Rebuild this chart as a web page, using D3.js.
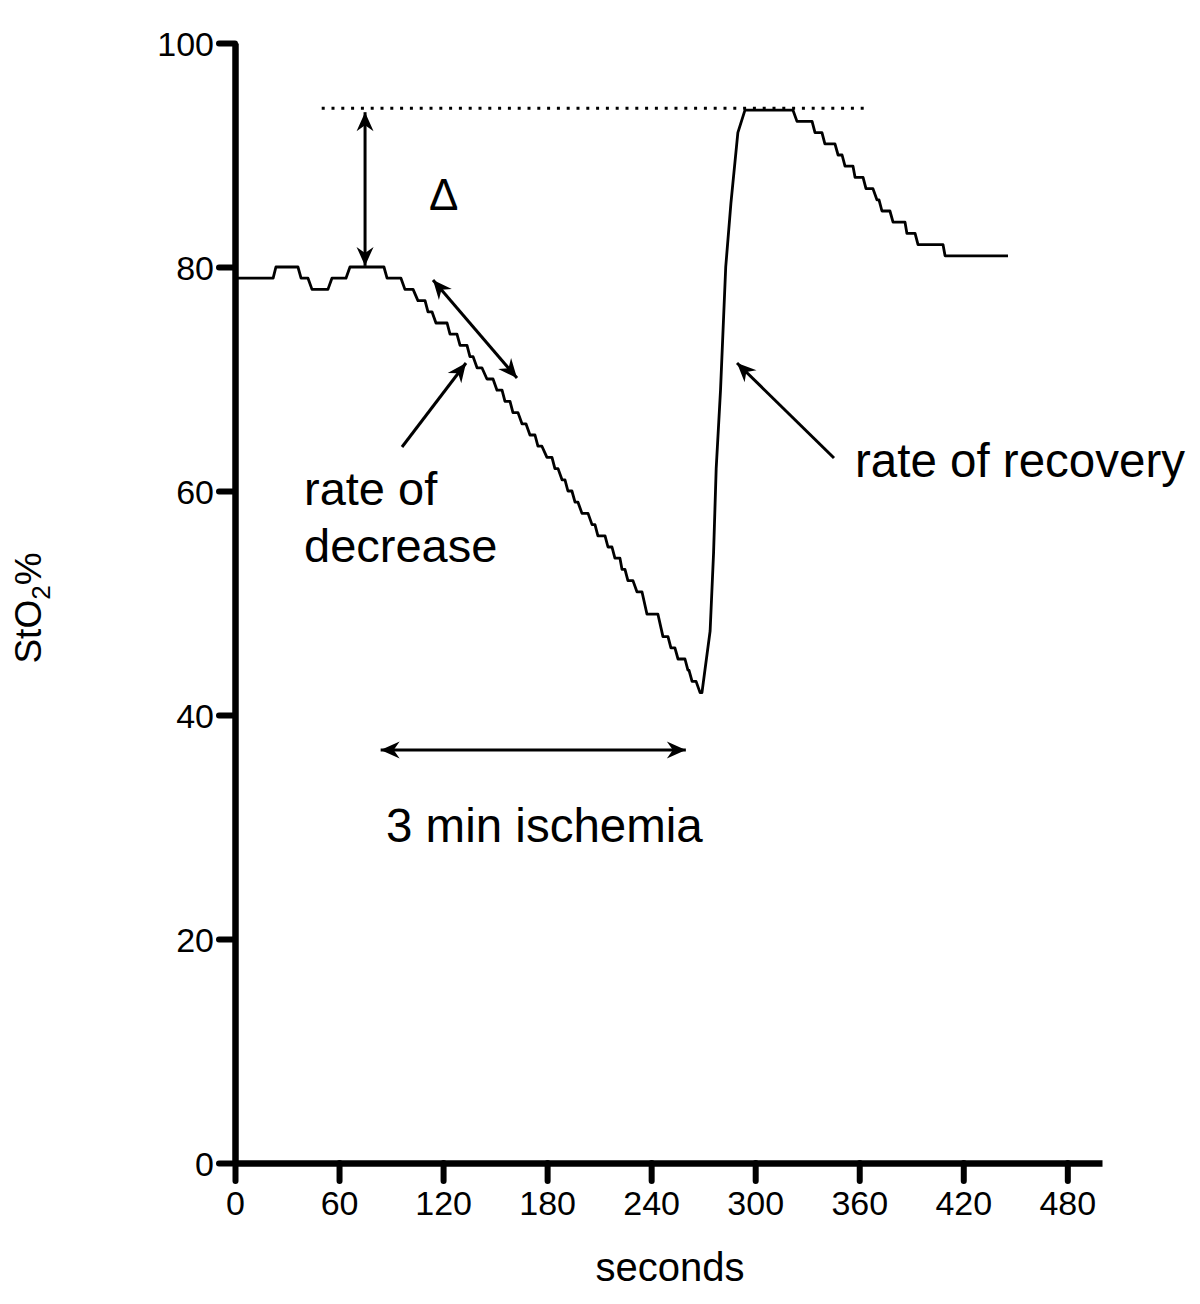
<!DOCTYPE html>
<html>
<head>
<meta charset="utf-8">
<script src="https://cdn.jsdelivr.net/npm/d3@7"></script>
<style>
  html, body { margin: 0; padding: 0; background: #fff; }
  svg { display: block; font-family: "Liberation Sans", Arial, Helvetica, sans-serif; }
</style>
</head>
<body>
<svg id="chart" width="1200" height="1304"></svg>
<script>
// ---- data (vertices of the StO2 trace) ----
const seconds = [
  0, 22, 23.6, 36.3, 38.1, 42.1, 44.4, 53.6, 55.9, 64.0, 66.3, 85.9, 87.7, 95.7,
  98.0, 102.7, 105.5, 109.6, 111.3, 113.6, 115.9, 122.3, 124.0, 128.0, 129.8, 133.8,
  135.5, 137.3, 139.6, 142.4, 145.3, 148.8, 151.1, 154.0, 155.7, 158.6, 160.3, 163.2,
  165.5, 167.8, 170.1, 173.0, 174.7, 177.0, 179.9, 182.8, 184.5, 186.3, 188.6, 190.3,
  192.0, 194.3, 196.1, 197.8, 200.1, 203.6, 205.9, 207.6, 209.3, 213.4, 215.1, 217.4,
  219.1, 222.0, 223.2, 224.9, 226.6, 229.5, 231.8, 234.7, 237.6, 243.9, 246.8, 249.7,
  251.4, 253.7, 255.5, 259.5, 261.2, 261.8, 263.6, 265.9, 268.2, 269.3,
  271.0, 274.0, 276.0, 277.5, 280.0, 283.0, 286.0, 290.0, 294.1,
  321.8, 324.1, 332.8, 334.5, 338.5, 340.2, 346.0, 347.8, 350.1, 351.8, 356.4, 357.6,
  362.2, 363.9, 367.9, 370.2, 371.4, 373.1, 377.7, 379.5, 386.4, 387.5, 392.2, 393.9,
  408.3, 409.5, 445.8
];
const sto2 = [
  79, 79, 80, 80, 79, 79, 78, 78, 79, 79, 80, 80, 79, 79,
  78, 78, 77, 77, 76, 76, 75, 75, 74, 74, 73, 73,
  72, 72, 71, 71, 70, 70, 69, 69, 68, 68, 67, 67,
  66, 66, 65, 65, 64, 64, 63, 63, 62, 62, 61, 61,
  60, 60, 59, 59, 58, 58, 57, 57, 56, 56, 55, 55,
  54, 54, 53, 53, 52, 52, 51, 51, 49, 49, 47, 47,
  46, 46, 45, 45, 44, 44, 43, 43, 42, 42,
  44, 47.5, 54.5, 62, 69, 80, 85.7, 92, 94,
  94, 93, 93, 92, 92, 91, 91, 90, 90, 89, 89, 88,
  88, 87, 87, 86, 86, 85, 85, 84, 84, 83, 83, 82,
  82, 81, 81
];
const xTicks = [0, 60, 120, 180, 240, 300, 360, 420, 480];
const yTicks = [0, 20, 40, 60, 80, 100];
const peakLevel = 94;

// ---- scales ----
const svg = d3.select("#chart");
const x = d3.scaleLinear().domain([0, 500]).range([235, 1102]);
const y = d3.scaleLinear().domain([0, 100]).range([1163, 43]);

// ---- axes ----
const yAxis = svg.append("g")
  .attr("transform", `translate(${x(0)},0)`)
  .call(d3.axisLeft(y).tickValues(yTicks).tickSize(16).tickSizeOuter(0).tickPadding(5));
const xAxis = svg.append("g")
  .attr("transform", `translate(0,${y(0)})`)
  .call(d3.axisBottom(x).tickValues(xTicks).tickSize(18).tickSizeOuter(0).tickPadding(10));

[yAxis, xAxis].forEach(g => {
  g.select(".domain").attr("stroke", "#000").attr("stroke-width", 6.5);
  g.selectAll(".tick line").attr("stroke", "#000").attr("stroke-width", 6).attr("stroke-linecap", "round");
  g.selectAll(".tick text").attr("fill", "#000").attr("font-size", 34)
    .attr("font-family", '"Liberation Sans", Arial, sans-serif');
});
yAxis.selectAll(".tick text").attr("dy", "0.36em");

// axis titles
svg.append("text")
  .attr("x", 670).attr("y", 1281)
  .attr("text-anchor", "middle")
  .attr("font-size", 40)
  .text("seconds");

const yt = svg.append("text")
  .attr("transform", "translate(41,608) rotate(-90)")
  .attr("text-anchor", "middle")
  .attr("font-size", 37);
yt.append("tspan").text("StO");
yt.append("tspan").attr("font-size", 26).attr("dy", 9).text("2");
yt.append("tspan").attr("dy", -9).text("%");

// ---- data line ----
const pts = seconds.map((s, i) => [s, sto2[i]]);
svg.append("path")
  .datum(pts)
  .attr("fill", "none")
  .attr("stroke", "#000")
  .attr("stroke-width", 2.8)
  .attr("stroke-linejoin", "round")
  .attr("d", d3.line().x(d => x(d[0])).y(d => y(d[1])));

// ---- annotations ----
const defs = svg.append("defs");
defs.append("marker")
  .attr("id", "arr")
  .attr("markerUnits", "userSpaceOnUse")
  .attr("viewBox", "-22 -10 24 20")
  .attr("refX", 0).attr("refY", 0)
  .attr("markerWidth", 24).attr("markerHeight", 20)
  .attr("orient", "auto-start-reverse")
  .append("path")
  .attr("d", "M0,0 L-19,-8.5 L-13,0 L-19,8.5 Z")
  .attr("fill", "#000");

// dotted reference line at the peak level
svg.append("line")
  .attr("x1", x(50)).attr("x2", x(363))
  .attr("y1", y(peakLevel) - 2).attr("y2", y(peakLevel) - 2)
  .attr("stroke", "#000").attr("stroke-width", 3)
  .attr("stroke-dasharray", "3,6.8");

function arrow(x1, y1, x2, y2, both) {
  const l = svg.append("line")
    .attr("x1", x1).attr("y1", y1).attr("x2", x2).attr("y2", y2)
    .attr("stroke", "#000").attr("stroke-width", 3)
    .attr("marker-end", "url(#arr)");
  if (both) l.attr("marker-start", "url(#arr)");
}

// Δ double arrow (between baseline 80 and peak)
arrow(x(75), y(peakLevel) + 2, x(75), y(80.1), true);
// rate of decrease double arrow along slope
arrow(433, 280, 517, 378, true);
// rate of decrease pointer
arrow(402, 447, 466, 363, false);
// rate of recovery pointer
arrow(834, 458, 737, 363, false);
// 3 min ischemia
arrow(x(84), 750, x(260), 750, true);

const lbl = (t, xx, yy, fs) => svg.append("text").attr("x", xx).attr("y", yy)
  .attr("font-size", fs).attr("fill", "#000").text(t);
lbl("Δ", 429, 210, 44);
lbl("rate of", 304, 505, 47);
lbl("decrease", 304, 562, 47);
lbl("rate of recovery", 855, 477, 47.5);
lbl("3 min ischemia", 386, 842, 47.5);
</script>
</body>
</html>
